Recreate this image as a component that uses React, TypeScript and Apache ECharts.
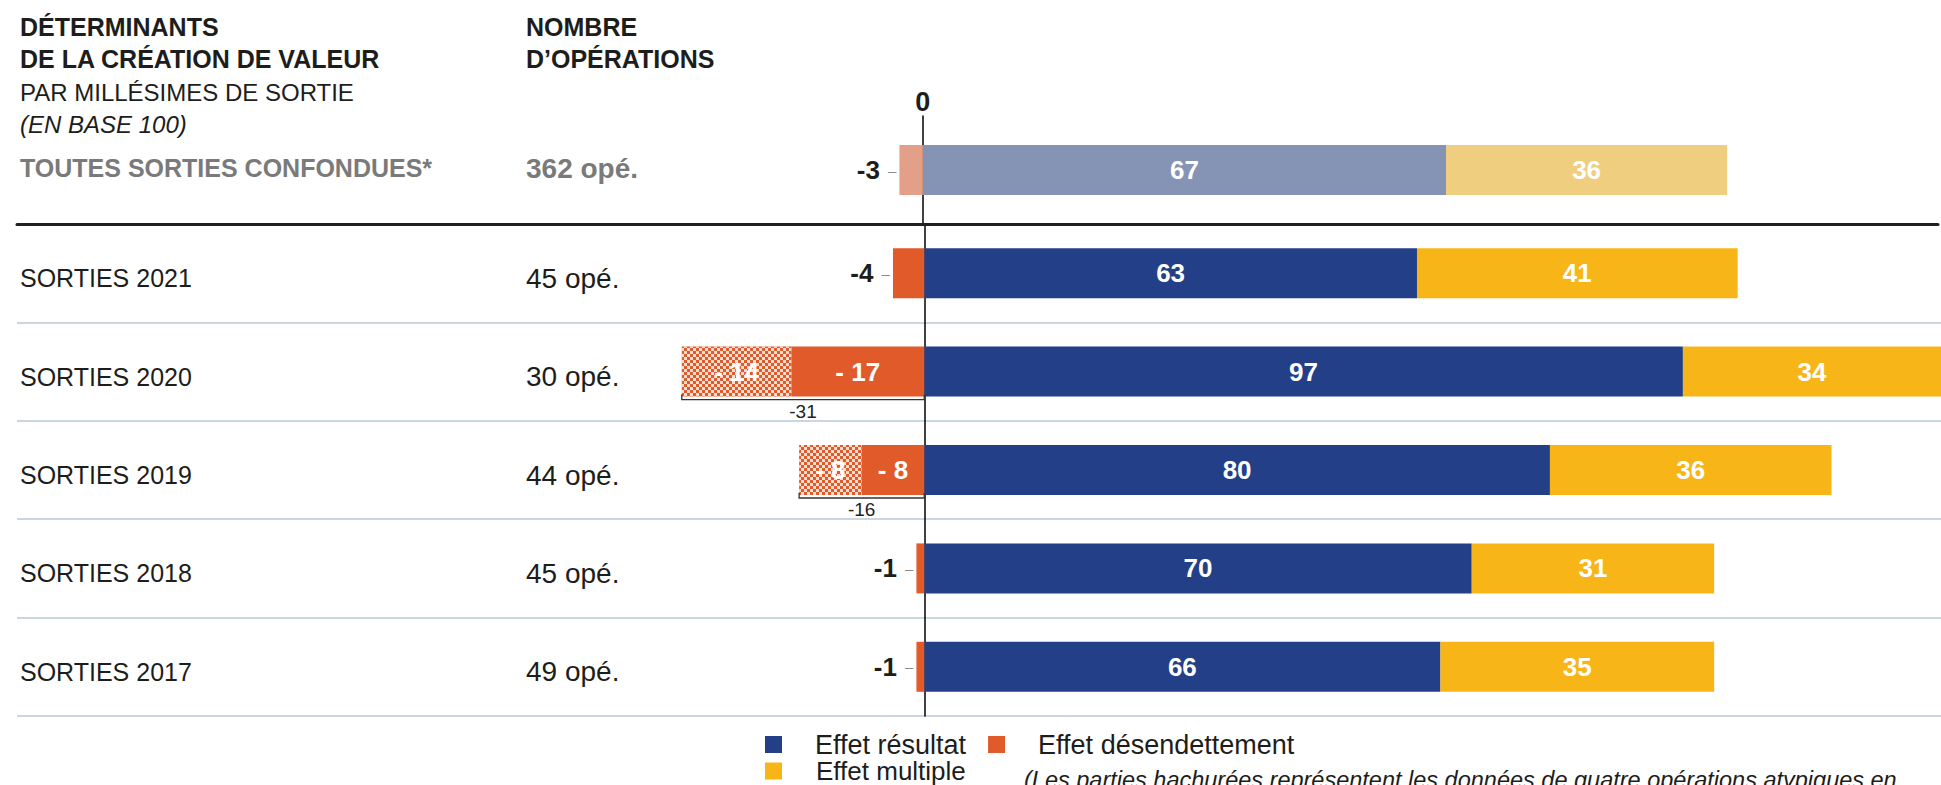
import React, { useEffect, useRef } from 'react';
import * as echarts from 'echarts';

// ---------- data ----------
const rowLabels = ['SORTIES 2021', 'SORTIES 2020', 'SORTIES 2019', 'SORTIES 2018', 'SORTIES 2017'];
const rowOps = ['45 opé.', '30 opé.', '44 opé.', '45 opé.', '49 opé.'];
const effetResultat = [63, 97, 80, 70, 66];
const effetMultiple = [41, 34, 36, 31, 35];
const effetDesendettement = [-4, -17, -8, -1, -1];
const effetDesendettementAtypique = [null, -14, -8, null, null];
const totalDesendettement = [null, -31, -16, null, null];

const allLabel = ['TOUTES SORTIES CONFONDUES*'];
const allOps = ['362 opé.'];
const allResultat = [67];
const allMultiple = [36];
const allDesendettement = [-3];

const headerLeft = ['DÉTERMINANTS', 'DE LA CRÉATION DE VALEUR', 'PAR MILLÉSIMES DE SORTIE', '(EN BASE 100)'];
const headerRight = ['NOMBRE', 'D’OPÉRATIONS'];
const legendRow1 = ['Effet résultat', 'Effet désendettement'];
const legendRow2 = ['Effet multiple'];
const note = '(Les parties hachurées représentent les données de quatre opérations atypiques en';

// ---------- layout / style ----------
const X_MIN = -116;
const X_MAX = 130;
const ZERO_STEP = 116;
const BAR_W = 50;
const FONT = '"Liberation Sans", Arial, sans-serif';
const INK = '#1d1d1b';
const GREY = '#7a7a7a';
const C = {
  resultat: '#223F87',
  multiple: '#F8B517',
  desend: '#E05A2A',
  resultatPale: '#8594B5',
  multiplePale: '#F0CE80',
  desendPale: '#E39F88',
  sep: '#C9D8E0',
};

const insideLabel = {
  show: true,
  position: 'inside',
  color: '#fff',
  fontWeight: 'bold',
  fontSize: 26,
  fontFamily: FONT,
};

const outsideNegLabel = (v: number) => ({
  show: true,
  position: 'left',
  distance: 3,
  formatter: `{v|${v}}{d| –}`,
  rich: {
    v: { fontSize: 26, fontWeight: 'bold', color: INK, fontFamily: FONT },
    d: { fontSize: 15, color: '#8a8a8a', fontFamily: FONT, padding: [0, 0, 0, 4] },
  },
});

const negData = (vals: number[], atyp: (number | null)[]) =>
  vals.map((v, i) => ({
    value: v,
    label: atyp[i] != null
      ? { ...insideLabel, formatter: `- ${Math.abs(v)}` }
      : outsideNegLabel(v),
  }));

const hatchDecal = {
  symbol: 'rect',
  symbolSize: 1,
  color: 'rgba(255,255,255,0.8)',
  dashArrayX: [[3, 3], [0, 3, 3, 0]],
  dashArrayY: [3, 0],
  rotation: 0,
};

export default function App() {
  const ref = useRef<HTMLDivElement>(null);

  useEffect(() => {
    if (!ref.current) return;
    const chart = echarts.init(ref.current, null, { renderer: 'svg' });

    const bracketData = totalDesendettement
      .map((t, i) => (t == null ? null : [t, i]))
      .filter((d) => d != null);

    const option: any = {
      animation: false,
      textStyle: { fontFamily: FONT },
      grid: [
        { left: 17, right: 0, top: 116, height: 108 },
        { left: 17, right: 0, top: 224, height: 492 },
      ],
      xAxis: [
        {
          gridIndex: 0, type: 'value', min: X_MIN, max: X_MAX, position: 'bottom',
          axisLine: { show: true, onZero: false, lineStyle: { color: '#231f20', width: 3 } },
          axisTick: { show: false }, axisLabel: { show: false }, splitLine: { show: false },
        },
        {
          gridIndex: 0, type: 'value', min: X_MIN, max: X_MAX, interval: ZERO_STEP, position: 'top',
          axisLine: { show: false }, axisTick: { show: false }, splitLine: { show: false },
          axisLabel: {
            show: true, margin: 1, fontSize: 27, fontWeight: 'bold', color: INK, fontFamily: FONT,
            formatter: (v: number) => (v === 0 ? '0' : ''),
          },
        },
        {
          gridIndex: 1, type: 'value', min: X_MIN, max: X_MAX, show: false,
          splitLine: { show: false },
        },
      ],
      yAxis: [
        {
          gridIndex: 0, type: 'category', data: allLabel, inverse: true, position: 'left',
          axisLine: { show: true, onZero: true, lineStyle: { color: '#000', width: 1.5 } },
          axisTick: { show: false }, axisLabel: { show: false }, splitLine: { show: false },
        },
        {
          gridIndex: 0, type: 'category', data: allLabel, inverse: true, position: 'left',
          axisLine: { show: false, onZero: false }, axisTick: { show: false }, splitLine: { show: false },
          axisLabel: {
            show: true, inside: true, margin: 3, padding: [0, 0, 4, 0],
            formatter: (v: string, i: number) => `{a|${v}}{b|${allOps[i]}}`,
            rich: {
              a: { width: 506, fontSize: 25, fontWeight: 'bold', color: GREY, fontFamily: FONT },
              b: { fontSize: 28, fontWeight: 'bold', color: GREY, fontFamily: FONT },
            },
          },
        },
        {
          gridIndex: 1, type: 'category', data: rowLabels, inverse: true, position: 'left',
          axisLine: { show: true, onZero: true, lineStyle: { color: '#000', width: 1.5 } },
          axisTick: { show: false }, axisLabel: { show: false },
          splitLine: {
            show: true,
            lineStyle: { color: ['rgba(0,0,0,0)', C.sep, C.sep, C.sep, C.sep, C.sep], width: 2 },
          },
        },
        {
          gridIndex: 1, type: 'category', data: rowLabels, inverse: true, position: 'left',
          axisLine: { show: false, onZero: false }, axisTick: { show: false }, splitLine: { show: false },
          axisLabel: {
            show: true, inside: true, margin: 3, padding: [10, 0, 0, 0],
            formatter: (v: string, i: number) => `{a|${v}}{b|${rowOps[i]}}`,
            rich: {
              a: { width: 506, fontSize: 25, color: INK, fontFamily: FONT },
              b: { fontSize: 28, color: INK, fontFamily: FONT },
            },
          },
        },
      ],
      legend: [
        {
          data: legendRow1, left: 760, top: 726, icon: 'rect', itemWidth: 17, itemHeight: 17,
          itemGap: 22, selectedMode: false,
          textStyle: { fontSize: 27, color: INK, fontFamily: FONT, padding: [0, 0, 0, 28] },
        },
        {
          data: legendRow2, left: 760, top: 753, icon: 'rect', itemWidth: 17, itemHeight: 17,
          itemGap: 22, selectedMode: false,
          textStyle: { fontSize: 26, color: INK, fontFamily: FONT, padding: [0, 0, 0, 29] },
        },
      ],
      graphic: [
        ...headerLeft.map((t, i) => ({
          type: 'text', x: 20, y: [27, 59, 92, 124][i],
          style: {
            text: t, fill: INK, verticalAlign: 'middle',
            font: `${i === 3 ? 'italic ' : ''}${i < 2 ? 'bold ' : ''}${i < 2 ? 25 : 24}px ${FONT}`,
          },
        })),
        ...headerRight.map((t, i) => ({
          type: 'text', x: 526, y: [27, 59][i],
          style: { text: t, fill: INK, verticalAlign: 'middle', font: `bold 25px ${FONT}` },
        })),
        {
          type: 'text', x: 1024, y: 768,
          style: { text: note, fill: INK, verticalAlign: 'top', font: `italic 23.5px ${FONT}` },
        },
      ],
      series: [
        // --- all exits (pale) ---
        {
          name: 'Toutes sorties - effet résultat', type: 'bar', xAxisIndex: 0, yAxisIndex: 0,
          stack: 'all', barWidth: BAR_W, data: allResultat,
          itemStyle: { color: C.resultatPale }, label: insideLabel,
        },
        {
          name: 'Toutes sorties - effet multiple', type: 'bar', xAxisIndex: 0, yAxisIndex: 0,
          stack: 'all', barWidth: BAR_W, data: allMultiple,
          itemStyle: { color: C.multiplePale }, label: insideLabel,
        },
        {
          name: 'Toutes sorties - effet désendettement', type: 'bar', xAxisIndex: 0, yAxisIndex: 0,
          stack: 'all', barWidth: BAR_W, data: allDesendettement.map((v) => ({ value: v, label: outsideNegLabel(v) })),
          itemStyle: { color: C.desendPale },
        },
        // --- by vintage ---
        {
          name: 'Effet résultat', type: 'bar', xAxisIndex: 2, yAxisIndex: 2,
          stack: 'y', barWidth: BAR_W, data: effetResultat,
          itemStyle: { color: C.resultat }, label: insideLabel,
        },
        {
          name: 'Effet multiple', type: 'bar', xAxisIndex: 2, yAxisIndex: 2,
          stack: 'y', barWidth: BAR_W, data: effetMultiple,
          itemStyle: { color: C.multiple }, label: insideLabel,
        },
        {
          name: 'Effet désendettement', type: 'bar', xAxisIndex: 2, yAxisIndex: 2,
          stack: 'y', barWidth: BAR_W, data: negData(effetDesendettement, effetDesendettementAtypique),
          itemStyle: { color: C.desend },
        },
        {
          name: 'Effet désendettement (opérations atypiques)', type: 'bar', xAxisIndex: 2, yAxisIndex: 2,
          stack: 'y', barWidth: BAR_W, data: effetDesendettementAtypique,
          itemStyle: { color: C.desend, decal: hatchDecal },
          label: { ...insideLabel, formatter: (p: any) => `- ${Math.abs(p.value)}` },
        },
        {
          name: 'Total désendettement', type: 'custom', xAxisIndex: 2, yAxisIndex: 2,
          data: bracketData, encode: { x: 0, y: 1 }, z: 5,
          renderItem: (params: any, api: any) => {
            const total = api.value(0);
            const idx = api.value(1);
            const a = api.coord([total, idx]);
            const b = api.coord([0, idx]);
            const y = a[1] + BAR_W / 2 + 3;
            return {
              type: 'group',
              children: [
                {
                  type: 'polyline',
                  shape: { points: [[a[0], y - 5], [a[0], y], [b[0], y], [b[0], y - 5]] },
                  style: { stroke: '#333', lineWidth: 1.3, fill: null },
                },
                {
                  type: 'text',
                  style: {
                    text: String(total), x: (a[0] + b[0]) / 2, y: y + 2,
                    align: 'center', verticalAlign: 'top',
                    fontSize: 19, fill: '#222', fontFamily: FONT,
                  },
                },
              ],
            };
          },
        },
      ],
    };

    chart.setOption(option);
    return () => chart.dispose();
  }, []);

  return (
    <div
      ref={ref}
      style={{ position: 'absolute', left: 0, top: 0, width: 1941, height: 785, background: '#fff' }}
    />
  );
}
